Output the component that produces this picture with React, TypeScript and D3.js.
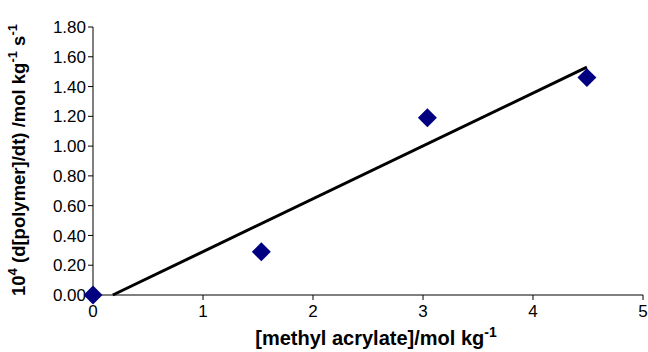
import React from "react";
import * as d3 from "d3";

const xValues = [0, 1.53, 3.04, 4.49];
const yValues = [0, 0.29, 1.19, 1.46];
const fitX = [0.18, 4.49];
const fitY = [0, 1.53];
const xTicks = [0, 1, 2, 3, 4, 5];
const yTicks = [0, 0.2, 0.4, 0.6, 0.8, 1.0, 1.2, 1.4, 1.6, 1.8];

const W = 648;
const H = 352;
const x0 = 93, x1 = 643, yTop = 27, yBot = 295;

export default function App() {
  const x = d3.scaleLinear().domain([0, 5]).range([x0, x1]);
  const y = d3.scaleLinear().domain([0, 1.8]).range([yBot, yTop]);
  const line = d3.line<number>().x((d, i) => x(fitX[i])).y((d, i) => y(fitY[i]));
  const diamond = d3.symbol().type(d3.symbolSquare).size(180)();
  const font = "Arial, 'Liberation Sans', sans-serif";
  return (
    <svg width={W} height={H} style={{ position: "absolute", left: 0, top: 0, background: "#fff" }} fontFamily={font}>
      <rect width={W} height={H} fill="#fff" />
      <line x1={x0} x2={x0} y1={yTop} y2={yBot} stroke="#000" strokeWidth={1} />
      <line x1={x0} x2={x1} y1={yBot} y2={yBot} stroke="#000" strokeWidth={1} />
      {yTicks.map((t) => (
        <g key={"y" + t}>
          <line x1={x0 - 5} x2={x0} y1={y(t)} y2={y(t)} stroke="#000" />
          <text x={x0 - 7} y={y(t)} dy="0.36em" textAnchor="end" fontSize={17} fill="#000">
            {t.toFixed(2)}
          </text>
        </g>
      ))}
      {xTicks.map((t) => (
        <g key={"x" + t}>
          <line x1={x(t)} x2={x(t)} y1={yBot} y2={yBot + 5} stroke="#000" />
          <text x={x(t)} y={yBot + 22} textAnchor="middle" fontSize={17} fill="#000">
            {t}
          </text>
        </g>
      ))}
      <path d={line(fitX) || ""} stroke="#000" strokeWidth={3} fill="none" />
      {xValues.map((v, i) => (
        <path
          key={i}
          d={diamond || ""}
          transform={`translate(${x(v)},${y(yValues[i])}) rotate(45)`}
          fill="#000080"
        />
      ))}
      <text x={376} y={345} textAnchor="middle" fontSize={20} fontWeight="bold" fill="#000">
        [methyl acrylate]/mol kg<tspan dy={-8} fontSize={14}>-1</tspan>
      </text>
      <text
        transform={`translate(25,160) rotate(-90)`}
        textAnchor="middle"
        fontSize={18.5}
        fontWeight="bold"
        fill="#000"
      >
        10<tspan dy={-8} fontSize={13}>4</tspan>
        <tspan dy={8}> (d[polymer]/dt) /mol kg</tspan>
        <tspan dy={-8} fontSize={13}>-1</tspan>
        <tspan dy={8}> s</tspan>
        <tspan dy={-8} fontSize={13}>-1</tspan>
      </text>
    </svg>
  );
}
